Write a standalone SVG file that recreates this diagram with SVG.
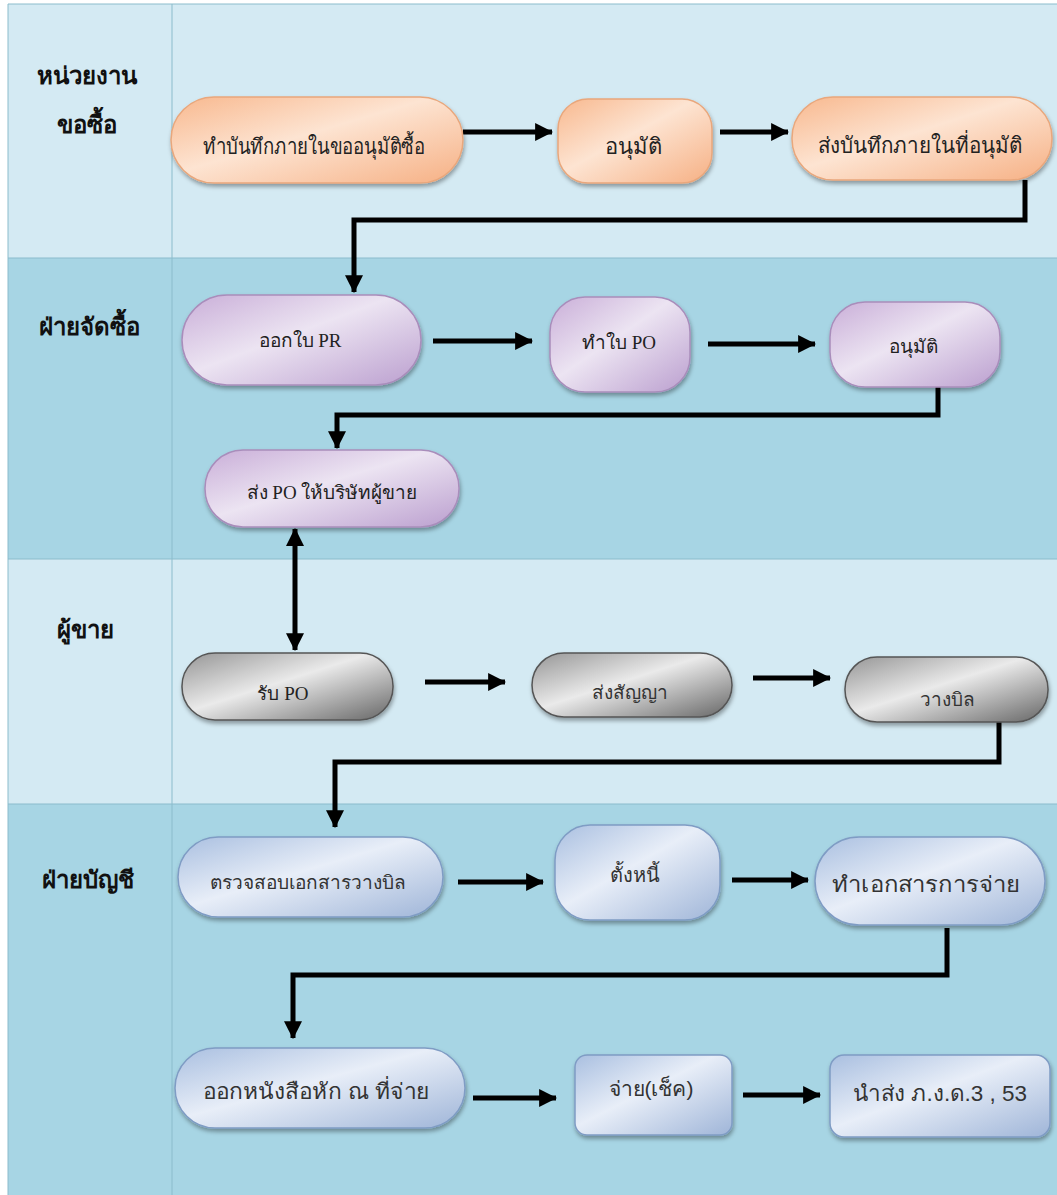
<svg xmlns="http://www.w3.org/2000/svg" width="1057" height="1195" viewBox="0 0 1057 1195">
<style>
.laneL{fill:#d4eaf3}
.laneD{fill:#a7d5e4}
.sep{stroke:#8bbccc;stroke-width:1}
.lbl{font-family:"Liberation Serif","DejaVu Serif",serif;font-weight:bold;font-size:24px;fill:#111;text-anchor:middle}
.ts{font-family:"Liberation Serif","DejaVu Serif",serif;font-size:19px;fill:#222;text-anchor:middle}
.tn{font-family:"Liberation Sans","DejaVu Sans",sans-serif;font-size:19px;fill:#333;text-anchor:middle}
.big{font-size:22px}
.mid{font-size:20px}
.cn{fill:none;stroke:#000;stroke-width:5}
.or{fill:url(#gO);stroke:#e9a77c;stroke-width:1.5;filter:url(#sh)}
.pu{fill:url(#gP);stroke:#a98dbb;stroke-width:1.5;filter:url(#sh)}
.gr{fill:url(#gG);stroke:#555;stroke-width:1.5;filter:url(#sh)}
.bl{fill:url(#gB);stroke:#7f9cc4;stroke-width:1.5;filter:url(#sh)}
</style>
<defs>
<filter id="sh" x="-10%" y="-20%" width="120%" height="150%"><feDropShadow dx="1" dy="3" stdDeviation="2" flood-color="#000" flood-opacity="0.35"/></filter>
<linearGradient id="gO" x1="0" y1="0" x2="1" y2="1"><stop offset="0" stop-color="#f8b88e"/><stop offset="0.45" stop-color="#fde4d2"/><stop offset="1" stop-color="#f6b084"/></linearGradient>
<linearGradient id="gP" x1="0" y1="0" x2="1" y2="1"><stop offset="0" stop-color="#c9aed8"/><stop offset="0.45" stop-color="#ece4f2"/><stop offset="1" stop-color="#bb9fcf"/></linearGradient>
<linearGradient id="gG" x1="0" y1="0" x2="1" y2="1"><stop offset="0" stop-color="#959595"/><stop offset="0.45" stop-color="#eaeaea"/><stop offset="1" stop-color="#666"/></linearGradient>
<linearGradient id="gB" x1="0" y1="0" x2="1" y2="1"><stop offset="0" stop-color="#a9bfe0"/><stop offset="0.45" stop-color="#e8eef8"/><stop offset="1" stop-color="#9fb5d8"/></linearGradient>
<marker id="ah" markerUnits="userSpaceOnUse" markerWidth="18" markerHeight="18" refX="15" refY="8" orient="auto-start-reverse" viewBox="0 0 16 16"><path d="M0,0 L16,8 L0,16 Z" fill="#000"/></marker>
</defs>
<rect x="0" y="0" width="1057" height="1195" fill="#fff"/>
<g id="lanes">
<rect class="laneL" x="8" y="4" width="1049" height="254"/>
<rect class="laneD" x="8" y="258" width="1049" height="301"/>
<rect class="laneL" x="8" y="559" width="1049" height="245"/>
<rect class="laneD" x="8" y="804" width="1049" height="391"/>
<line class="sep" x1="8" y1="4" x2="1057" y2="4"/>
<line class="sep" x1="8" y1="258" x2="1057" y2="258"/>
<line class="sep" x1="8" y1="559" x2="1057" y2="559"/>
<line class="sep" x1="8" y1="804" x2="1057" y2="804"/>
<line class="sep" x1="8" y1="4" x2="8" y2="1195"/>
<line class="sep" x1="172" y1="4" x2="172" y2="1195"/>
<text class="lbl" x="87" y="84">หน่วยงาน</text>
<text class="lbl" x="87" y="133">ขอซื้อ</text>
<text class="lbl" x="89" y="335">ฝ่ายจัดซื้อ</text>
<text class="lbl" x="85" y="638">ผู้ขาย</text>
<text class="lbl" x="88" y="888">ฝ่ายบัญชี</text>
</g>
<g id="connectors">
<line class="cn" x1="463" y1="132" x2="552" y2="132" marker-end="url(#ah)"/>
<line class="cn" x1="720" y1="132" x2="788" y2="132" marker-end="url(#ah)"/>
<polyline class="cn" points="1025,180 1025,220 354,220 354,292" marker-end="url(#ah)"/>
<line class="cn" x1="433" y1="341" x2="532" y2="341" marker-end="url(#ah)"/>
<line class="cn" x1="708" y1="344" x2="815" y2="344" marker-end="url(#ah)"/>
<polyline class="cn" points="938,387 938,415 337,415 337,448" marker-end="url(#ah)"/>
<line class="cn" x1="295" y1="529" x2="295" y2="650" marker-start="url(#ah)" marker-end="url(#ah)"/>
<line class="cn" x1="425" y1="682" x2="505" y2="682" marker-end="url(#ah)"/>
<line class="cn" x1="753" y1="678" x2="830" y2="678" marker-end="url(#ah)"/>
<polyline class="cn" points="999,722 999,762 335,762 335,827" marker-end="url(#ah)"/>
<line class="cn" x1="458" y1="882" x2="543" y2="882" marker-end="url(#ah)"/>
<line class="cn" x1="732" y1="880" x2="808" y2="880" marker-end="url(#ah)"/>
<polyline class="cn" points="947,928 947,975 293,975 293,1038" marker-end="url(#ah)"/>
<line class="cn" x1="473" y1="1098" x2="556" y2="1098" marker-end="url(#ah)"/>
<line class="cn" x1="743" y1="1095" x2="820" y2="1095" marker-end="url(#ah)"/>
</g>
<g id="n1"><rect class="or" x="171" y="97" width="292" height="86" rx="43"/><text class="ts big" x="314" y="154" textLength="222" lengthAdjust="spacingAndGlyphs">ทำบันทึกภายในขออนุมัติซื้อ</text></g>
<g id="n2"><rect class="or" x="558" y="99" width="154" height="84" rx="30"/><text class="ts big" x="633" y="154">อนุมัติ</text></g>
<g id="n3"><rect class="or" x="792" y="97" width="260" height="83" rx="41"/><text class="ts big" x="920" y="153" textLength="205" lengthAdjust="spacingAndGlyphs">ส่งบันทึกภายในที่อนุมัติ</text></g>
<g id="n4"><rect class="pu" x="182" y="295" width="239" height="90" rx="45"/><text class="ts" x="300" y="347">ออกใบ PR</text></g>
<g id="n5"><rect class="pu" x="550" y="297" width="140" height="95" rx="35"/><text class="ts" x="619" y="349">ทำใบ PO</text></g>
<g id="n6"><rect class="pu" x="830" y="302" width="170" height="85" rx="35"/><text class="ts" x="913" y="353">อนุมัติ</text></g>
<g id="n7"><rect class="pu" x="205" y="450" width="254" height="77" rx="38"/><text class="ts" x="332" y="499">ส่ง PO ให้บริษัทผู้ขาย</text></g>
<g id="n8"><rect class="gr" x="182" y="653" width="211" height="67" rx="33"/><text class="ts" x="283" y="700">รับ PO</text></g>
<g id="n9"><rect class="gr" x="532" y="653" width="200" height="64" rx="32"/><text class="tn" x="630" y="699">ส่งสัญญา</text></g>
<g id="n10"><rect class="gr" x="845" y="657" width="203" height="65" rx="32"/><text class="tn" x="947" y="706">วางบิล</text></g>
<g id="n11"><rect class="bl" x="178" y="837" width="265" height="80" rx="40"/><text class="tn" x="308" y="889" textLength="197" lengthAdjust="spacingAndGlyphs">ตรวจสอบเอกสารวางบิล</text></g>
<g id="n12"><rect class="bl" x="555" y="825" width="165" height="95" rx="35"/><text class="tn mid" x="635" y="882">ตั้งหนี้</text></g>
<g id="n13"><rect class="bl" x="815" y="837" width="230" height="88" rx="44"/><text class="tn big" x="926" y="892" textLength="188" lengthAdjust="spacingAndGlyphs">ทำเอกสารการจ่าย</text></g>
<g id="n14"><rect class="bl" x="175" y="1048" width="290" height="80" rx="40"/><text class="tn big" x="316" y="1099" textLength="227" lengthAdjust="spacingAndGlyphs">ออกหนังสือหัก ณ ที่จ่าย</text></g>
<g id="n15"><rect class="bl" x="575" y="1055" width="157" height="80" rx="12"/><text class="tn" x="651" y="1096" style="font-size:21px" textLength="85" lengthAdjust="spacingAndGlyphs">จ่าย(เช็ค)</text></g>
<g id="n16"><rect class="bl" x="830" y="1055" width="220" height="82" rx="14"/><text class="tn big" x="940" y="1101" textLength="174" lengthAdjust="spacingAndGlyphs">นำส่ง ภ.ง.ด.3 , 53</text></g>
</svg>
